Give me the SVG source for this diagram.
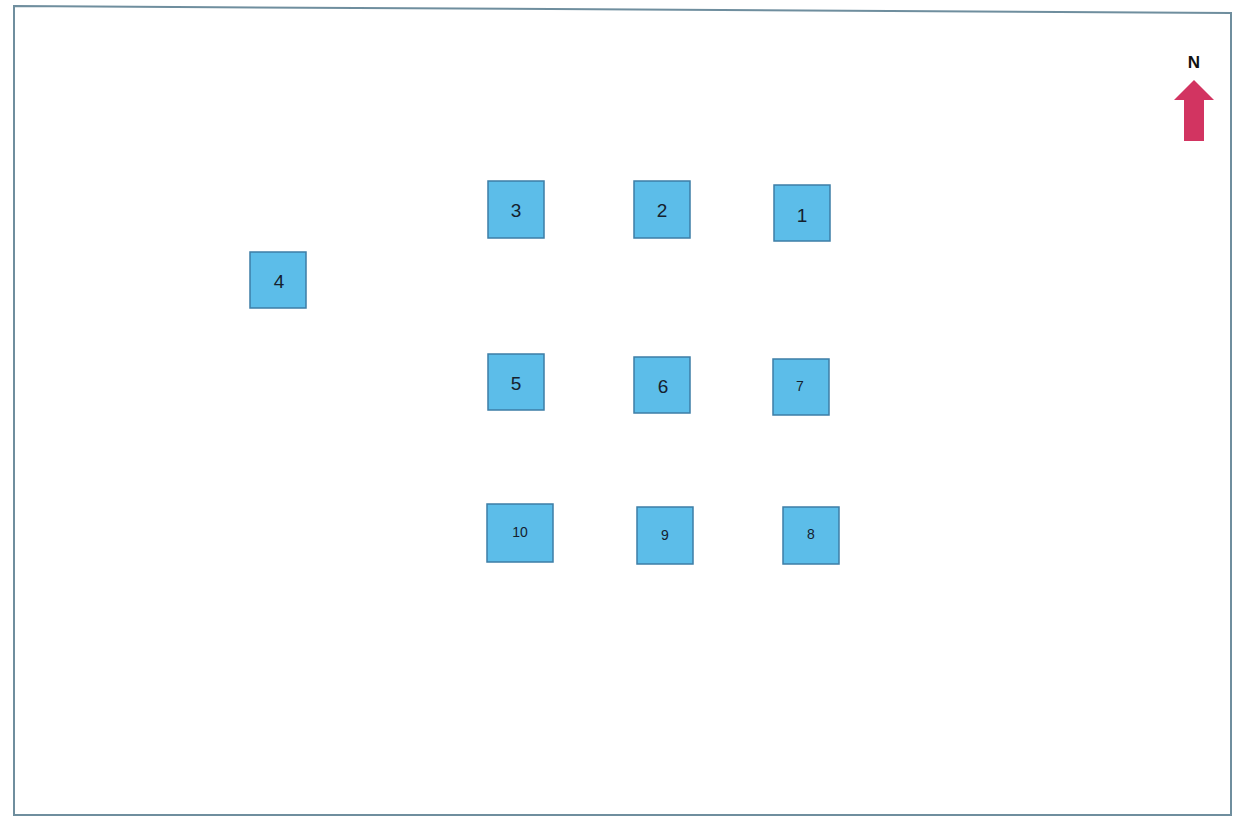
<svg xmlns="http://www.w3.org/2000/svg" width="1237" height="819" viewBox="0 0 1237 819">
<style>
.box{fill:#5cbde9;stroke:#3d7ea6;stroke-width:1.5}
.lbl{font-family:"Liberation Sans",Arial,sans-serif;fill:#15212e;text-anchor:middle;dominant-baseline:central}
.big{font-size:19px}
.small{font-size:14px}
</style>
<rect width="1237" height="819" fill="#ffffff"/>
<polygon points="14,6 1231,13 1231,815 14,815" fill="none" stroke="#6f8e9e" stroke-width="2"/>
<g id="north">
<text x="1194" y="62" class="lbl" style="font-size:17px;fill:#111;font-weight:bold">N</text>
<polygon points="1194,80 1214,100 1204,100 1204,141 1184,141 1184,100 1174,100" fill="#d23461"/>
</g>
<g id="connectors"></g>
<g id="n3"><rect class="box" x="488" y="181" width="56" height="57"/><text class="lbl big" x="516" y="210">3</text></g>
<g id="n2"><rect class="box" x="634" y="181" width="56" height="57"/><text class="lbl big" x="662" y="210">2</text></g>
<g id="n1"><rect class="box" x="774" y="185" width="56" height="56"/><text class="lbl big" x="802" y="215">1</text></g>
<g id="n4"><rect class="box" x="250" y="252" width="56" height="56"/><text class="lbl big" x="279" y="281">4</text></g>
<g id="n5"><rect class="box" x="488" y="354" width="56" height="56"/><text class="lbl big" x="516" y="383">5</text></g>
<g id="n6"><rect class="box" x="634" y="357" width="56" height="56"/><text class="lbl big" x="663" y="386">6</text></g>
<g id="n7"><rect class="box" x="773" y="359" width="56" height="56"/><text class="lbl small" x="800" y="386">7</text></g>
<g id="n10"><rect class="box" x="487" y="504" width="66" height="58"/><text class="lbl small" x="520" y="532">10</text></g>
<g id="n9"><rect class="box" x="637" y="507" width="56" height="57"/><text class="lbl small" x="665" y="535">9</text></g>
<g id="n8"><rect class="box" x="783" y="507" width="56" height="57"/><text class="lbl small" x="811" y="534">8</text></g>
</svg>
